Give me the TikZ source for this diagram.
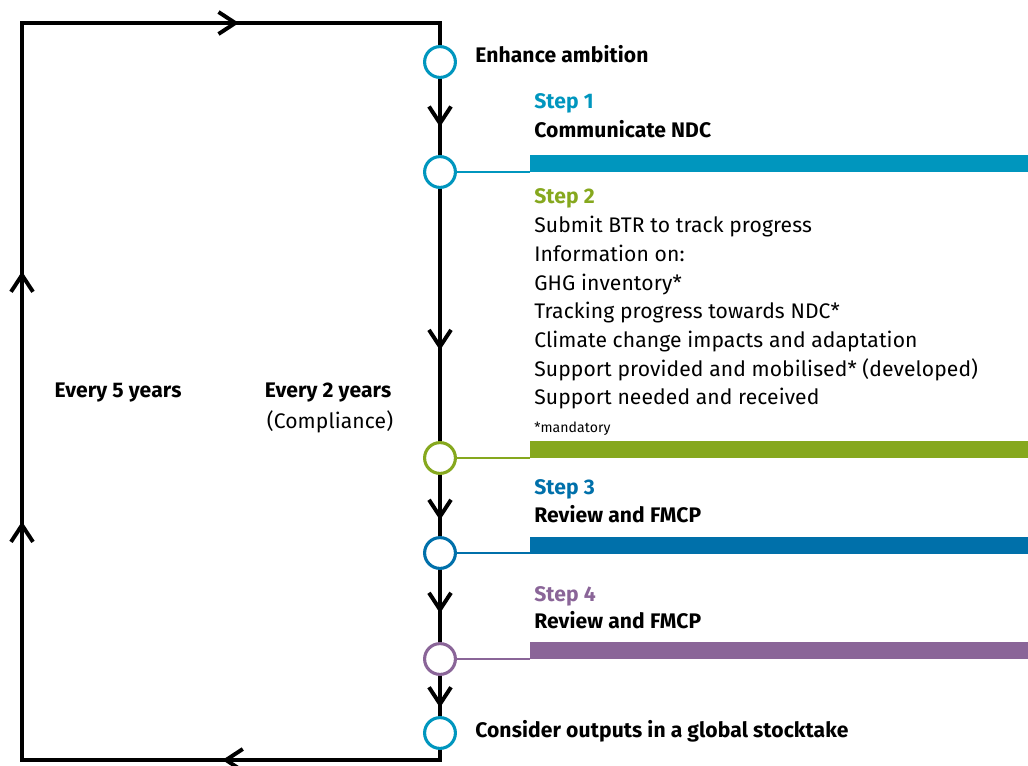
\documentclass[tikz,border=0pt]{standalone}
\usepackage{fontspec}
\setmainfont{Fira Sans}[LetterSpace=0.5]
\usetikzlibrary{arrows.meta,decorations.markings}

\definecolor{stepone}{RGB}{0,150,190}
\definecolor{steptwo}{RGB}{134,168,30}
\definecolor{stepthree}{RGB}{0,112,170}
\definecolor{stepfour}{RGB}{138,101,152}

\tikzset{
  flow/.style={line width=2.8pt, black},
  halt/.style={circle, draw=#1, line width=2.2pt, fill=white, minimum size=0.77cm, inner sep=0pt},
  bar/.style={fill=#1, minimum width=12.45cm, minimum height=0.425cm, inner sep=0pt, anchor=south west},
  tie/.style={draw=#1, line width=1.4pt},
  txt/.style={anchor=base west, inner sep=0pt, font=\fontsize{15}{18}\selectfont},
  btxt/.style={txt, font=\fontsize{15}{18}\selectfont\bfseries},
  steplabel/.style={btxt, text=#1},
  barb/.tip={Straight Barb[length=0.42cm, width=0.55cm]},
  arrowat/.style={postaction={decorate, decoration={markings, mark=at position #1 with {\arrow{barb}}}}},
}

\begin{document}
\begin{tikzpicture}[x=0.025cm, y=-0.025cm]
    \useasboundingbox (0,0) rectangle (1028,765);

    % stations on the reporting line
    \node[halt=stepone]   (c0) at (440,62)  {};
    \node[halt=stepone]   (c1) at (440,172) {};
    \node[halt=steptwo]   (c2) at (440,458) {};
    \node[halt=stepthree] (c3) at (440,553) {};
    \node[halt=stepfour]  (c4) at (440,659) {};
    \node[halt=stepone]   (c5) at (440,733) {};

    % corners of the five year loop
    \coordinate (tr) at (440,23);
    \coordinate (tl) at (22,23);
    \coordinate (bl) at (22,760);
    \coordinate (br) at (440,760);

    % the two year line
    \draw[flow, arrowat=0.63] (c0) -- (c1);
    \draw[flow, arrowat=0.64] (c1) -- (c2);
    \draw[flow, arrowat=0.74] (c2) -- (c3);
    \draw[flow, arrowat=0.60] (c3) -- (c4);
    \draw[flow, arrowat=0.79] (c4) -- (c5);

    % the five year loop
    \draw[flow, line join=miter, postaction={decorate, decoration={markings,
        mark=at position 5.69cm with {\arrow{barb}},
        mark=at position 16.66cm with {\arrow{barb}},
        mark=at position 22.91cm with {\arrow{barb}},
        mark=at position 34.54cm with {\arrow{barb}}}}]
        (c5) -- (br) -- (bl) -- (tl) -- (tr) -- (c0);

    % coloured bars
    \node[bar=stepone]   (b1) at (530,172) {};
    \node[bar=steptwo]   (b2) at (530,458) {};
    \node[bar=stepthree] (b3) at (530,554) {};
    \node[bar=stepfour]  (b4) at (530,659) {};
    \draw[tie=stepone]   (c1) -- (b1.south west);
    \draw[tie=steptwo]   (c2) -- (b2.south west);
    \draw[tie=stepthree] (c3) -- (b3.south west |- c3);
    \draw[tie=stepfour]  (c4) -- (b4.south west);

    % labels
    \node[btxt] (enh) at (475,62) {Enhance ambition};
    \node[btxt] (gst) at (475,737) {Consider outputs in a global stocktake};

    \node[steplabel=stepone] (s1) at (534,108) {Step 1};
    \node[btxt] (s1a) at (534,137) {Communicate NDC};

    \node[steplabel=steptwo] (s2) at (534,203) {Step 2};
    \node[txt] (s2a) at (534,232) {Submit BTR to track progress};
    \node[txt] (s2b) at (534,261) {Information on:};
    \node[txt] (s2c) at (534,290) {GHG inventory*};
    \node[txt] (s2d) at (534,318) {Tracking progress towards NDC*};
    \node[txt] (s2e) at (534,347) {Climate change impacts and adaptation};
    \node[txt] (s2f) at (534,376) {Support provided and mobilised* (developed)};
    \node[txt] (s2g) at (534,404) {Support needed and received};
    \node[txt, font=\fontsize{10}{12}\selectfont] (s2h) at (534,432) {*mandatory};

    \node[steplabel=stepthree] (s3) at (534,494) {Step 3};
    \node[btxt] (s3a) at (534,522) {Review and FMCP};

    \node[steplabel=stepfour] (s4) at (534,601) {Step 4};
    \node[btxt] (s4a) at (534,628) {Review and FMCP};

    \node[btxt, anchor=base] (e5) at (118,397) {Every 5 years};
    \node[btxt, anchor=base] (e2) at (328,397) {Every 2 years};
    \node[txt, anchor=base] (cmp) at (330,428) {(Compliance)};

\end{tikzpicture}
\end{document}
